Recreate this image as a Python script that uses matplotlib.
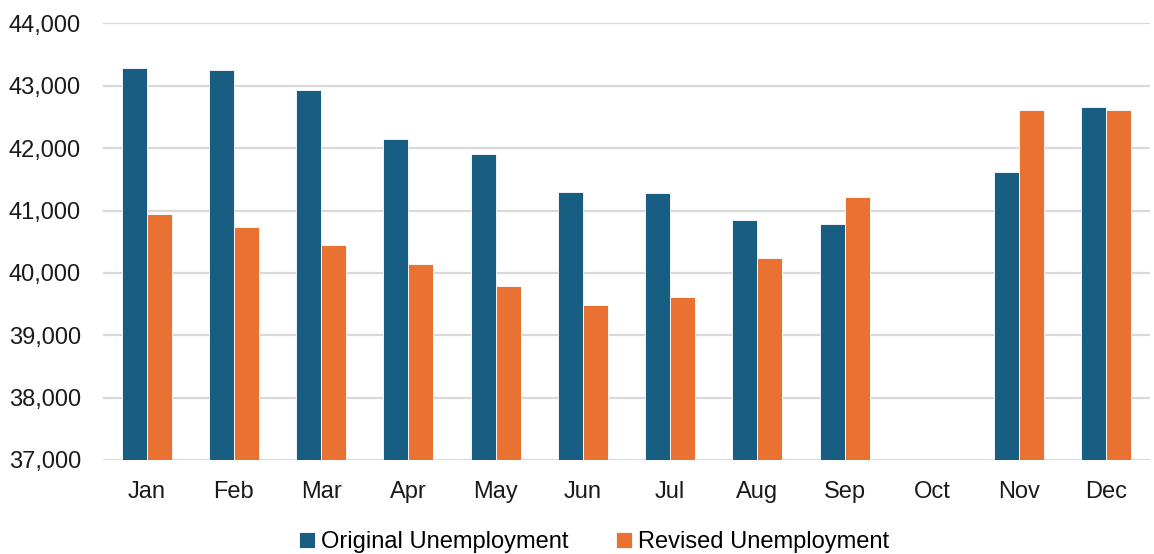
import numpy as np
import matplotlib.pyplot as plt
from matplotlib.ticker import FuncFormatter

plt.rcParams['font.family'] = ['Liberation Sans', 'DejaVu Sans']

months = ["Jan", "Feb", "Mar", "Apr", "May", "Jun", "Jul", "Aug", "Sep", "Oct", "Nov", "Dec"]
original = [43279, 43252, 42931, 42154, 41909, 41300, 41284, 40845, 40792, np.nan, 41620, 42662]
revised = [40947, 40744, 40445, 40149, 39797, 39492, 39615, 40237, 41215, np.nan, 42619, 42619]

blue = "#175E82"
orange = "#E97132"

fig = plt.figure(figsize=(11.54, 5.54), dpi=100)
ax = fig.add_axes([0.0893, 0.1697, 0.9072, 0.7879])

x = np.arange(len(months))
w = 0.286
ax.bar(x - w / 2, original, w, color=blue, edgecolor="white", linewidth=0.6,
       label="Original Unemployment", zorder=3)
ax.bar(x + w / 2, revised, w, color=orange, edgecolor="white", linewidth=0.6,
       label="Revised Unemployment", zorder=3)

ax.set_ylim(37000, 44000)
ax.set_xlim(-0.5, len(months) - 0.5)
ax.set_yticks(np.arange(37000, 44001, 1000))
ax.yaxis.set_major_formatter(FuncFormatter(lambda v, p: f"{int(v):,}"))
ax.set_xticks(x)
ax.set_xticklabels(months)
ax.grid(axis="y", color="#D9D9D9", linewidth=1.6, zorder=0)
ax.tick_params(axis="both", length=0, labelsize=17, colors="#1a1a1a")
ax.tick_params(axis="x", pad=15)
ax.tick_params(axis="y", pad=16)
for s in ax.spines.values():
    s.set_visible(False)

ax.legend(loc="upper center", bbox_to_anchor=(0.469, -0.115), ncol=2, frameon=False,
          fontsize=17, handlelength=0.7, handleheight=0.7, handletextpad=0.25,
          columnspacing=2.0)

fig.savefig("out.png", dpi=100)
